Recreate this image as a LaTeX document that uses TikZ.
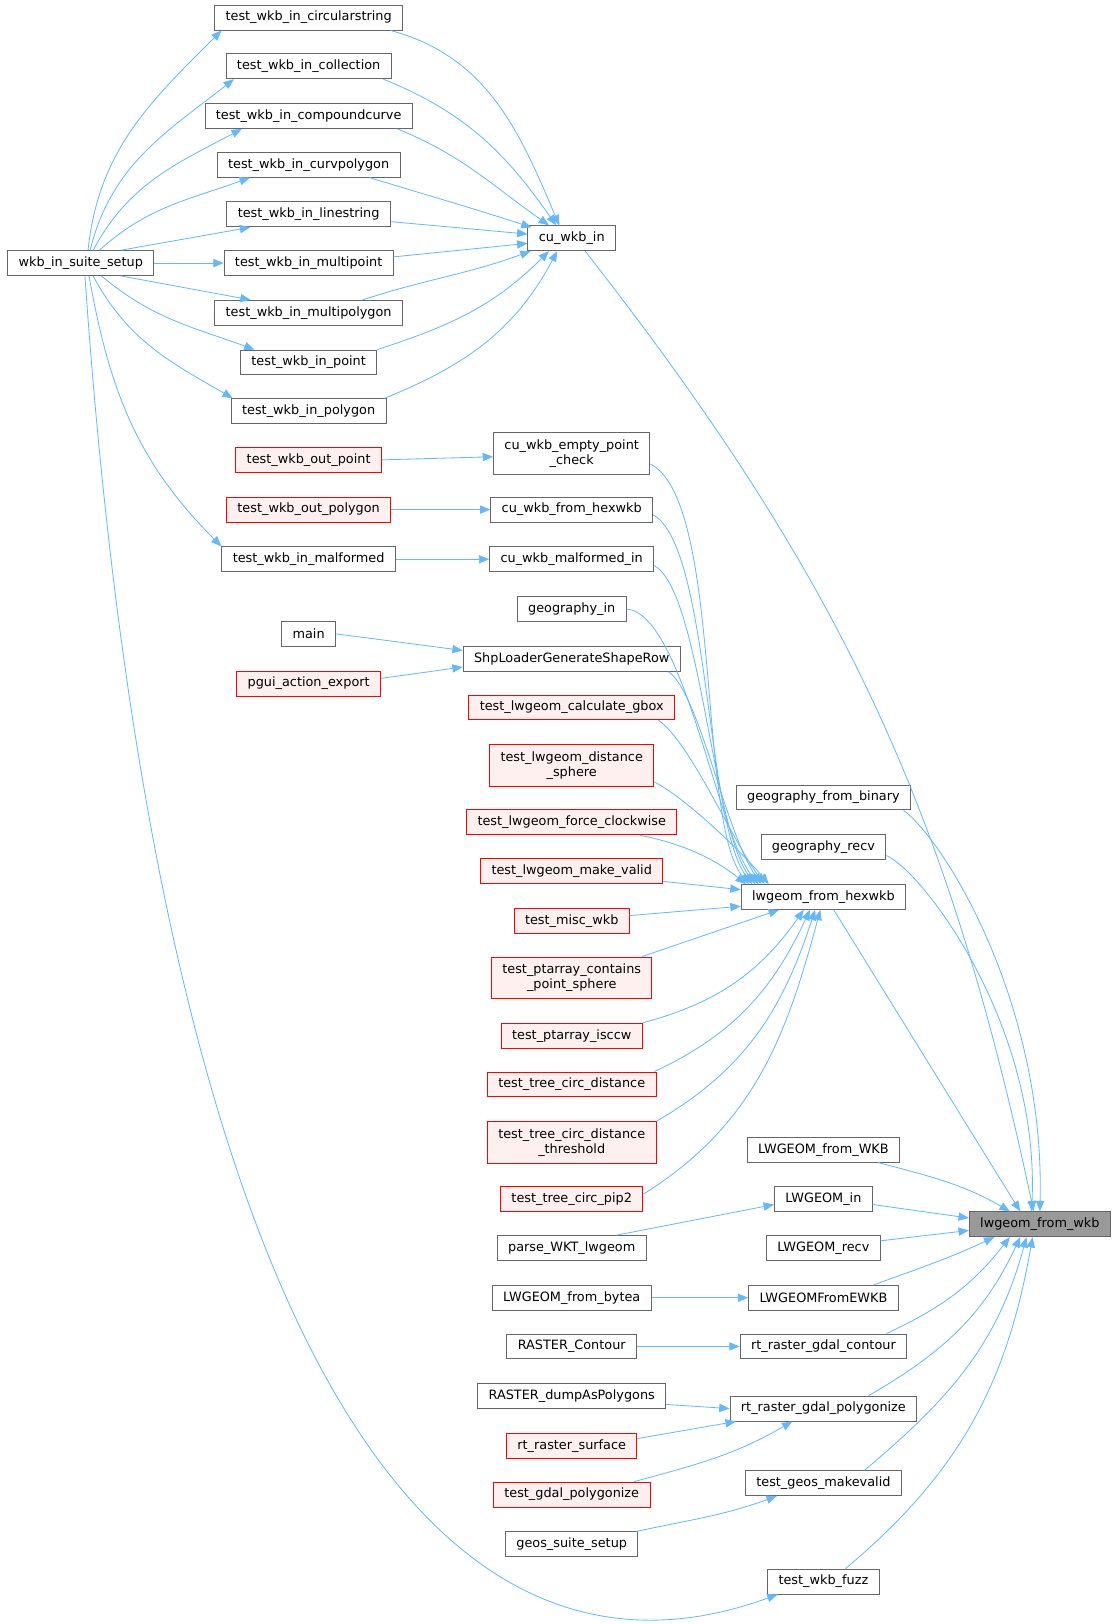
\documentclass[tikz,border=0pt]{standalone}
\usepackage{fontspec}
\setmainfont{DejaVu Sans}
\usetikzlibrary{positioning, arrows.meta}

\definecolor{fnborder}{HTML}{666666}
\definecolor{redfill}{HTML}{FFF0F0}
\definecolor{rootfill}{HTML}{999999}
\definecolor{edgeblue}{HTML}{63B8FF}

\begin{document}
\begin{tikzpicture}[x=1pt, y=1pt,
    fn/.style={draw=fnborder, fill=white, line width=0.9pt, inner xsep=10.5pt, inner ysep=0pt,
        minimum height=24pt, align=center, font=\fontsize{12.4}{14.5}\selectfont},
    fnred/.style={fn, draw=red, fill=redfill},
    fnroot/.style={fn, fill=rootfill},
    two/.style={minimum height=40pt},
    call/.style={draw=edgeblue, line width=0.8pt, -{Triangle[length=10pt, width=8pt]}}]
    \useasboundingbox (0,0) rectangle (1081,-1568);

    \node[fn] (circ) at (298,-17) {test\_wkb\_in\_circularstring};
    \node[fn] (coll) at (298,-64) {test\_wkb\_in\_collection};
    \node[fn] (comp) at (298,-112) {test\_wkb\_in\_compoundcurve};
    \node[fn] (curv) at (298,-159) {test\_wkb\_in\_curvpolygon};
    \node[fn] (lines) at (298,-207) {test\_wkb\_in\_linestring};
    \node[fn] (mpt) at (298,-254) {test\_wkb\_in\_multipoint};
    \node[fn] (mpoly) at (298,-302) {test\_wkb\_in\_multipolygon};
    \node[fn] (pt) at (298,-350) {test\_wkb\_in\_point};
    \node[fn] (poly) at (298,-397) {test\_wkb\_in\_polygon};
    \node[fn] (wss) at (78,-254) {wkb\_in\_suite\_setup};
    \node[fn] (cuin) at (552,-230) {cu\_wkb\_in};
    \node[fnred] (outpt) at (298,-444) {test\_wkb\_out\_point};
    \node[fnred] (outpoly) at (298,-492) {test\_wkb\_out\_polygon};
    \node[fn] (malf) at (298,-540) {test\_wkb\_in\_malformed};
    \node[fn] (main) at (298,-612) {main};
    \node[fnred] (pgui) at (298,-660) {pgui\_action\_export};

    \node[fn, two] (empty) at (552,-438) {cu\_wkb\_empty\_point\\\_check};
    \node[fn] (fromhex) at (552,-492) {cu\_wkb\_from\_hexwkb};
    \node[fn] (malfin) at (552,-540) {cu\_wkb\_malformed\_in};
    \node[fn] (geoin) at (552,-588) {geography\_in};
    \node[fn] (shp) at (552,-636) {ShpLoaderGenerateShapeRow};
    \node[fnred] (gbox) at (552,-683) {test\_lwgeom\_calculate\_gbox};
    \node[fnred, two] (dist) at (552,-739) {test\_lwgeom\_distance\\\_sphere};
    \node[fnred] (clock) at (552,-794) {test\_lwgeom\_force\_clockwise};
    \node[fnred] (valid) at (552,-841) {test\_lwgeom\_make\_valid};
    \node[fnred] (misc) at (552,-889) {test\_misc\_wkb};
    \node[fnred, two] (contains) at (552,-944) {test\_ptarray\_contains\\\_point\_sphere};
    \node[fnred] (isccw) at (552,-1000) {test\_ptarray\_isccw};
    \node[fnred] (circdist) at (552,-1047) {test\_tree\_circ\_distance};
    \node[fnred, two] (thresh) at (552,-1103) {test\_tree\_circ\_distance\\\_threshold};
    \node[fnred] (pip) at (552,-1158) {test\_tree\_circ\_pip2};
    \node[fn] (parse) at (552,-1205) {parse\_WKT\_lwgeom};
    \node[fn] (bytea) at (552,-1253) {LWGEOM\_from\_bytea};
    \node[fn] (contour) at (552,-1300) {RASTER\_Contour};
    \node[fn] (dump) at (552,-1348) {RASTER\_dumpAsPolygons};
    \node[fnred] (surface) at (552,-1396) {rt\_raster\_surface};
    \node[fnred] (gdalpoly) at (552,-1443) {test\_gdal\_polygonize};
    \node[fn] (geos) at (552,-1491) {geos\_suite\_setup};

    \node[fn] (geobin) at (795,-770) {geography\_from\_binary};
    \node[fn] (georecv) at (795,-818) {geography\_recv};
    \node[fn] (hexwkb) at (795,-866) {lwgeom\_from\_hexwkb};
    \node[fn] (fromwkb) at (795,-1110) {LWGEOM\_from\_WKB};
    \node[fn] (lwin) at (795,-1158) {LWGEOM\_in};
    \node[fn] (lwrecv) at (795,-1205) {LWGEOM\_recv};
    \node[fn] (ewkb) at (795,-1253) {LWGEOMFromEWKB};
    \node[fn] (gdalcont) at (795,-1300) {rt\_raster\_gdal\_contour};
    \node[fn] (gdalpolyz) at (795,-1360) {rt\_raster\_gdal\_polygonize};
    \node[fn] (makevalid) at (795,-1432) {test\_geos\_makevalid};
    \node[fn] (fuzz) at (795,-1527) {test\_wkb\_fuzz};
    \node[fnroot] (wkb) at (1004,-1182) {lwgeom\_from\_wkb};

    \draw[call] ([xshift=7pt]wss.north) to[out=84, in=-135] ([xshift=7pt]circ.south west);
    \draw[call] ([xshift=9pt]wss.north) to[out=76, in=-142] ([xshift=8pt]coll.south west);
    \draw[call] ([xshift=12pt]wss.north) to[out=62, in=-152] ([xshift=36pt]comp.south west);
    \draw[call] ([xshift=18pt]wss.north) to[out=42, in=-160] ([xshift=32pt]curv.south west);
    \draw[call] ([xshift=39pt]wss.north) -- ([xshift=23pt]lines.south west);
    \draw[call] (wss.east) -- (mpt.west);
    \draw[call] ([xshift=39pt]wss.south) -- ([xshift=35pt]mpoly.north west);
    \draw[call] ([xshift=20pt]wss.south) to[out=-40, in=160] ([xshift=14pt]pt.north west);
    \draw[call] ([xshift=12pt]wss.south) to[out=-62, in=150] ([xshift=2pt]poly.north west);
    \draw[call] ([xshift=8pt]wss.south) to[out=-80, in=135] (malf.north west);
    \draw[call] ([xshift=4pt]wss.south) .. controls +(68,-984) and +(-350,-128) .. ([xshift=10pt]fuzz.south west);

    \draw[call] ([xshift=-12pt]circ.south east) to[out=-15, in=113] ([xshift=-12pt]cuin.north);
    \draw[call] ([xshift=-8pt]coll.south east) to[out=-22, in=125] ([xshift=-15pt]cuin.north);
    \draw[call] ([xshift=-15pt]comp.south east) to[out=-22, in=145] ([xshift=-22pt]cuin.north);
    \draw[call] ([xshift=-30pt]curv.south east) to[out=-17, in=162] ([xshift=4pt, yshift=-2pt]cuin.north west);
    \draw[call] ([yshift=-7pt]lines.east) -- ([yshift=4pt]cuin.west);
    \draw[call] ([yshift=6pt]mpt.east) -- ([yshift=-5pt]cuin.west);
    \draw[call] ([xshift=-39pt]mpoly.north east) to[out=18, in=-160] ([xshift=3pt]cuin.south west);
    \draw[call] (pt.north east) to[out=18, in=-135] ([xshift=-22pt]cuin.south);
    \draw[call] ([xshift=-2pt]poly.north east) to[out=22, in=-118] ([xshift=-14pt]cuin.south);
    \draw[call] ([xshift=13pt]cuin.south) to[out=-52, in=102] ([xshift=-6pt]wkb.north);

    \draw[call] (outpt.east) -- ([yshift=-3pt]empty.west);
    \draw[call] (outpoly.east) -- (fromhex.west);
    \draw[call] (malf.east) -- (malfin.west);
    \draw[call] (main.east) -- ([yshift=8pt]shp.west);
    \draw[call] ([yshift=5pt]pgui.east) -- ([yshift=-8pt]shp.west);

    \draw[call] ([yshift=-10pt]empty.east) .. controls +(70,-35) and +(-50,60) .. ([xshift=8pt]hexwkb.north west);
    \draw[call] ([yshift=-5pt]fromhex.east) .. controls +(55,-30) and +(-45,60) .. ([xshift=11pt]hexwkb.north west);
    \draw[call] ([yshift=-6pt]malfin.east) .. controls +(45,-25) and +(-42,55) .. ([xshift=14pt]hexwkb.north west);
    \draw[call] (geoin.east) .. controls +(55,-5) and +(-40,50) .. ([xshift=17pt]hexwkb.north west);
    \draw[call] ([xshift=-12pt]shp.south east) .. controls +(30,-20) and +(-35,50) .. ([xshift=20pt]hexwkb.north west);
    \draw[call] ([xshift=-16pt]gbox.south east) .. controls +(30,-20) and +(-30,40) .. ([xshift=23pt]hexwkb.north west);
    \draw[call] ([yshift=-16pt]dist.east) .. controls +(30,-15) and +(-25,30) .. ([xshift=27pt]hexwkb.north west);
    \draw[call] ([xshift=-36pt]clock.south east) .. controls +(50,-10) and +(-25,20) .. ([xshift=5pt]hexwkb.north west);
    \draw[call] ([yshift=-10pt]valid.east) -- ([yshift=7pt]hexwkb.west);
    \draw[call] ([yshift=5pt]misc.east) -- ([yshift=-9pt]hexwkb.west);
    \draw[call] ([xshift=-10pt]contains.north east) -- ([xshift=37pt]hexwkb.south west);
    \draw[call] (isccw.north east) to[out=15, in=-125] ([xshift=-19pt]hexwkb.south);
    \draw[call] ([xshift=-2pt]circdist.north east) to[out=25, in=-115] ([xshift=-13pt]hexwkb.south);
    \draw[call] (thresh.north east) to[out=30, in=-108] ([xshift=-8pt]hexwkb.south);
    \draw[call] ([yshift=5pt]pip.east) to[out=32, in=-105] ([xshift=-3pt]hexwkb.south);

    \draw[call] ([xshift=-29pt]parse.north east) -- ([yshift=-5pt]lwin.west);
    \draw[call] (bytea.east) -- (ewkb.west);
    \draw[call] (contour.east) -- (gdalcont.west);
    \draw[call] ([yshift=-8pt]dump.east) -- (gdalpolyz.west);
    \draw[call] ([yshift=7pt]surface.east) -- ([xshift=6pt]gdalpolyz.south west);
    \draw[call] ([xshift=-16pt]gdalpoly.north east) to[out=15, in=-150] ([xshift=-30pt]gdalpolyz.south);
    \draw[call] ([xshift=-2pt]geos.north east) to[out=12, in=-160] ([xshift=-45pt]makevalid.south);

    \draw[call] ([xshift=-7pt]geobin.south east) .. controls +(40,-30) and +(5,200) .. (wkb.north);
    \draw[call] ([yshift=-8pt]georecv.east) .. controls +(35,-15) and +(8,180) .. ([xshift=-8pt]wkb.north);
    \draw[call] ([xshift=10pt]hexwkb.south) -- ([xshift=-19pt]wkb.north);
    \draw[call] ([xshift=-21pt]fromwkb.south east) to[out=-15, in=150] ([xshift=-29pt]wkb.north);
    \draw[call] ([yshift=-5pt]lwin.east) -- ([yshift=6pt]wkb.west);
    \draw[call] ([yshift=7pt]lwrecv.east) -- ([yshift=-6pt]wkb.west);
    \draw[call] ([xshift=-24pt]ewkb.north east) to[out=20, in=-155] ([xshift=-44pt]wkb.south);
    \draw[call] ([xshift=-20pt]gdalcont.north east) to[out=25, in=-128] ([xshift=-29pt]wkb.south);
    \draw[call] ([xshift=-47pt]gdalpolyz.north east) to[out=30, in=-115] ([xshift=-19pt]wkb.south);
    \draw[call] ([xshift=-36pt]makevalid.north east) to[out=40, in=-105] ([xshift=-13pt]wkb.south);
    \draw[call] ([xshift=-33pt]fuzz.north east) to[out=40, in=-100] ([xshift=-7pt]wkb.south);
\end{tikzpicture}
\end{document}
